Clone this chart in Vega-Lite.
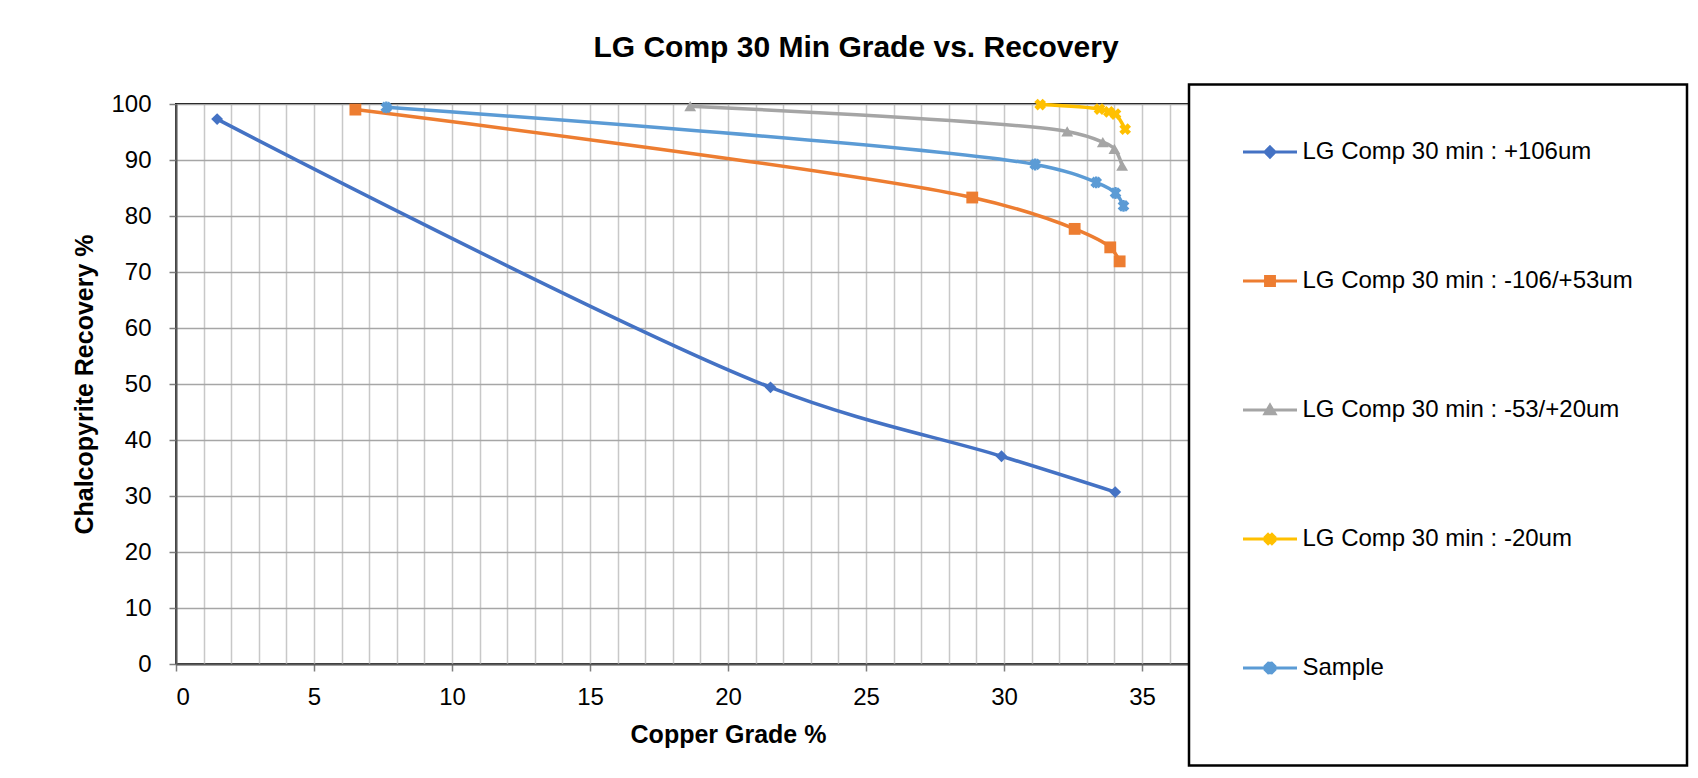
{
  "$schema": "https://vega.github.io/schema/vega-lite/v6.json",
  "width": 1104,
  "height": 560,
  "autosize": "none",
  "padding": {"left": 176, "top": 104, "right": 418, "bottom": 114},
  "background": "white",
  "title": {
    "text": "LG Comp 30 Min Grade vs. Recovery",
    "font": "Liberation Sans",
    "fontSize": 30,
    "fontWeight": "bold",
    "color": "black",
    "anchor": "middle",
    "dx": 128,
    "offset": 20
  },
  "config": {
    "view": {"stroke": "black", "strokeWidth": 2},
    "axis": {
      "labelFont": "Liberation Sans",
      "titleFont": "Liberation Sans",
      "labelColor": "black",
      "titleColor": "black",
      "labelFontSize": 24,
      "titleFontSize": 25,
      "titleFontWeight": "bold",
      "domainColor": "#595959",
      "domainWidth": 2,
      "tickSize": 7,
      "tickWidth": 1.5
    }
  },
  "data": {
    "values": [
      {"series": "LG Comp 30 min : +106um", "grade": 1.49, "recovery": 97.3},
      {"series": "LG Comp 30 min : +106um", "grade": 21.54, "recovery": 49.4},
      {"series": "LG Comp 30 min : +106um", "grade": 29.91, "recovery": 37.1},
      {"series": "LG Comp 30 min : +106um", "grade": 34.03, "recovery": 30.7},
      {"series": "LG Comp 30 min : -106/+53um", "grade": 6.5, "recovery": 99.0},
      {"series": "LG Comp 30 min : -106/+53um", "grade": 28.85, "recovery": 83.3},
      {"series": "LG Comp 30 min : -106/+53um", "grade": 32.56, "recovery": 77.7},
      {"series": "LG Comp 30 min : -106/+53um", "grade": 33.85, "recovery": 74.4},
      {"series": "LG Comp 30 min : -106/+53um", "grade": 34.19, "recovery": 71.9},
      {"series": "LG Comp 30 min : -53/+20um", "grade": 18.63, "recovery": 99.6},
      {"series": "LG Comp 30 min : -53/+20um", "grade": 32.29, "recovery": 95.1},
      {"series": "LG Comp 30 min : -53/+20um", "grade": 33.58, "recovery": 93.2},
      {"series": "LG Comp 30 min : -53/+20um", "grade": 34.0, "recovery": 92.0},
      {"series": "LG Comp 30 min : -53/+20um", "grade": 34.28, "recovery": 89.0},
      {"series": "LG Comp 30 min : -20um", "grade": 31.31, "recovery": 99.9},
      {"series": "LG Comp 30 min : -20um", "grade": 33.46, "recovery": 99.1},
      {"series": "LG Comp 30 min : -20um", "grade": 33.8, "recovery": 98.6},
      {"series": "LG Comp 30 min : -20um", "grade": 34.04, "recovery": 98.2},
      {"series": "LG Comp 30 min : -20um", "grade": 34.39, "recovery": 95.5},
      {"series": "Sample", "grade": 7.62, "recovery": 99.4},
      {"series": "Sample", "grade": 31.13, "recovery": 89.2},
      {"series": "Sample", "grade": 33.34, "recovery": 86.0},
      {"series": "Sample", "grade": 34.04, "recovery": 84.1},
      {"series": "Sample", "grade": 34.33, "recovery": 81.8}
    ]
  },
  "encoding": {
    "x": {
      "field": "grade",
      "type": "quantitative",
      "title": "Copper Grade %",
      "scale": {"domain": [0, 40], "nice": false},
      "axis": {
        "values": [0,1,2,3,4,5,6,7,8,9,10,11,12,13,14,15,16,17,18,19,20,21,22,23,24,25,26,27,28,29,30,31,32,33,34,35,36,37,38,39,40],
        "labelExpr": "datum.value % 5 === 0 ? datum.label : ''",
        "labelOverlap": false,
        "labelPadding": 14,
        "titlePadding": 13,
        "grid": true,
        "gridColor": "#c8c8c8",
        "gridWidth": 1.5,
        "tickColor": {"condition": {"test": "datum.value % 5 === 0", "value": "#7f7f7f"}, "value": "transparent"}
      }
    },
    "y": {
      "field": "recovery",
      "type": "quantitative",
      "title": "Chalcopyrite Recovery %",
      "scale": {"domain": [0, 100], "nice": false},
      "axis": {
        "values": [0,10,20,30,40,50,60,70,80,90,100],
        "labelPadding": 18,
        "titlePadding": 13,
        "grid": true,
        "gridColor": "#a6a6a6",
        "gridWidth": 1.5,
        "tickColor": "#7f7f7f"
      }
    },
    "color": {
      "field": "series",
      "type": "nominal",
      "scale": {
        "domain": ["LG Comp 30 min : +106um", "LG Comp 30 min : -106/+53um", "LG Comp 30 min : -53/+20um", "LG Comp 30 min : -20um", "Sample"],
        "range": ["#4472C4", "#ED7D31", "#A5A5A5", "#FFC000", "#5B9BD5"]
      },
      "legend": {
        "orient": "none",
        "legendX": 1013,
        "legendY": -19.5,
        "direction": "vertical",
        "columns": 1,
        "title": " ",
        "titleOrient": "bottom",
        "titleFontSize": 2,
        "titlePadding": 29,
        "padding": 54,
        "fillColor": "white",
        "strokeColor": "black",
        "labelFont": "Liberation Sans",
        "labelFontSize": 24,
        "labelColor": "black",
        "labelOffset": 19,
        "labelLimit": 600,
        "symbolSize": 576,
        "symbolStrokeWidth": 3,
        "symbolOffset": 13.5,
        "rowPadding": 103,
        "encode": {
          "legend": {"update": {"strokeWidth": {"value": 2.5}}},
          "symbols": {
            "update": {
              "shape": {"signal": "['M-2.25,0H2.25M0,-0.42L0.42,0L0,0.42L-0.42,0Z','M-2.25,0H2.25M-0.37,-0.37H0.37V0.37H-0.37Z','M-2.25,0H2.25M0,-0.4L0.42,0.32H-0.42Z','M-2.25,0H2.25M-0.16,-0.38L0,-0.22L0.16,-0.38L0.38,-0.16L0.22,0L0.38,0.16L0.16,0.38L0,0.22L-0.16,0.38L-0.38,0.16L-0.22,0L-0.38,-0.16Z','M-2.25,0H2.25M-0.16,-0.38L0,-0.22L0.16,-0.38L0.38,-0.16L0.22,0L0.38,0.16L0.16,0.38L0,0.22L-0.16,0.38L-0.38,0.16L-0.22,0L-0.38,-0.16ZM-0.07,-0.4H0.07V0.4H-0.07Z'][datum.index]"},
              "fill": {"signal": "['#4472C4','#ED7D31','#A5A5A5','#FFC000','#5B9BD5'][datum.index]"},
              "stroke": {"signal": "['#4472C4','#ED7D31','#A5A5A5','#FFC000','#5B9BD5'][datum.index]"},
              "strokeWidth": {"value": 3},
              "opacity": {"value": 1}
            }
          }
        }
      }
    }
  },
  "layer": [
    {
      "mark": {"type": "line", "strokeWidth": 3.5, "interpolate": "catmull-rom"},
      "encoding": {"detail": {"field": "series"}}
    },
    {
      "mark": {"type": "point", "filled": true, "opacity": 1, "size": 140},
      "encoding": {
        "shape": {
          "field": "series",
          "type": "nominal",
          "sort": "ascending",
          "legend": null,
          "scale": {
            "range": [
              "diamond",
              "square",
              "M-0.42,-0.99L0,-0.57L0.42,-0.99L0.99,-0.42L0.57,0L0.99,0.42L0.42,0.99L0,0.57L-0.42,0.99L-0.99,0.42L-0.57,0L-0.99,-0.42Z",
              "triangle-up",
              "M-0.42,-0.99L0,-0.57L0.42,-0.99L0.99,-0.42L0.57,0L0.99,0.42L0.42,0.99L0,0.57L-0.42,0.99L-0.99,0.42L-0.57,0L-0.99,-0.42ZM-0.2,-1H0.2V1H-0.2Z"
            ]
          }
        }
      }
    }
  ]
}
